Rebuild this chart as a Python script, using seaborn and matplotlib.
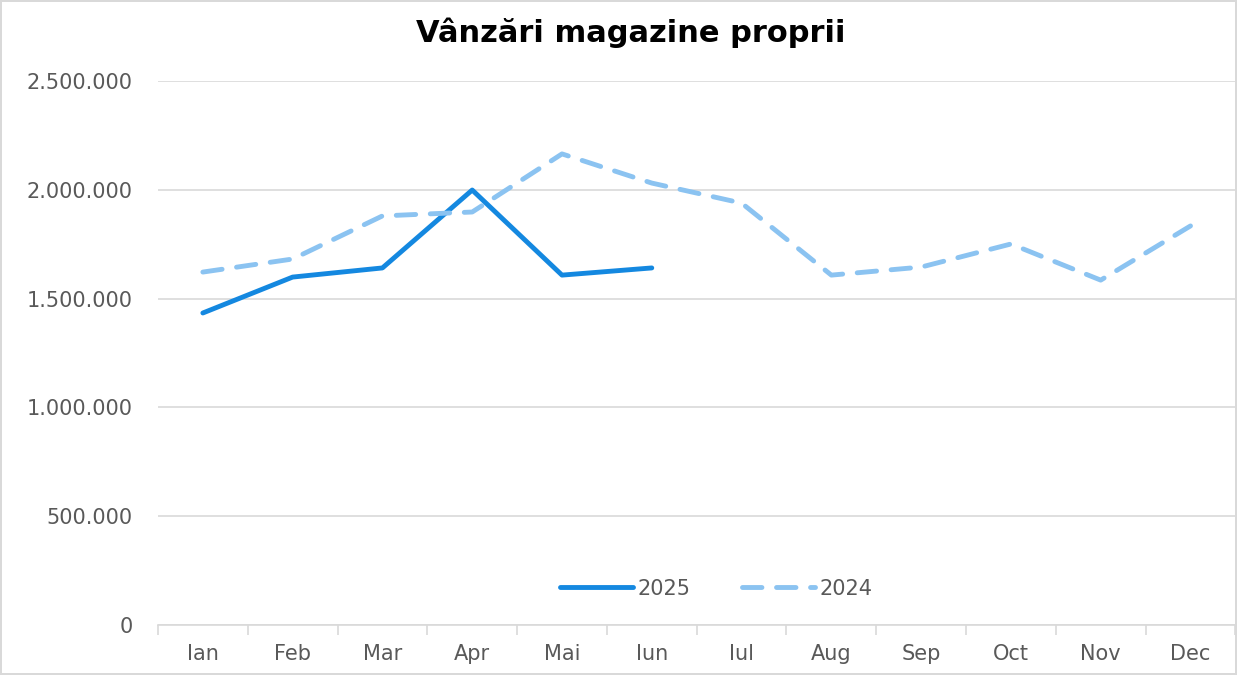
import numpy as np
import pandas as pd
import seaborn as sns
import matplotlib.pyplot as plt
from matplotlib.ticker import FuncFormatter

luni = ['Ian', 'Feb', 'Mar', 'Apr', 'Mai', 'Iun', 'Iul', 'Aug', 'Sep', 'Oct', 'Nov', 'Dec']
vanzari_2025 = [1434000, 1599000, 1641000, 1999000, 1608000, 1641000]
vanzari_2024 = [1622000, 1682000, 1880000, 1898000, 2165000, 2031000,
                1939000, 1608000, 1645000, 1751000, 1585000, 1834000]

sns.set_theme(style='white')
plt.rcParams['font.family'] = ['DejaVu Sans']

df25 = pd.DataFrame({'luna': np.arange(len(vanzari_2025)), 'val': vanzari_2025})
df24 = pd.DataFrame({'luna': np.arange(len(vanzari_2024)), 'val': vanzari_2024})

fig = plt.figure(figsize=(12.37, 6.75), dpi=100)
fig.patch.set_edgecolor('#d9d9d9')
fig.patch.set_linewidth(1.5)
ax = fig.add_axes([0.1277, 0.074, 0.871, 0.806])

sns.lineplot(data=df25, x='luna', y='val', ax=ax, color='#1488e0', lw=3.5,
             label='2025', solid_capstyle='round')
sns.lineplot(data=df24, x='luna', y='val', ax=ax, color='#8bc3f1', lw=3.5,
             label='2024', dashes=False, linestyle=(0, (4, 3)), dash_capstyle='round')

ax.set_xlim(-0.5, 11.5)
ax.set_ylim(0, 2500000)
ax.set_yticks(np.arange(0, 2500001, 500000))
ax.yaxis.set_major_formatter(FuncFormatter(lambda v, p: f'{int(v):,}'.replace(',', '.')))
ax.yaxis.grid(True, color='#d9d9d9', lw=1.2)
ax.set_axisbelow(True)

ax.set_xticks(range(12))
ax.set_xticklabels(luni)
ax.set_xticks(np.arange(-0.5, 12, 1), minor=True)
ax.tick_params(axis='x', which='major', length=0, pad=14, labelsize=15, labelcolor='#595959')
ax.tick_params(axis='x', which='minor', length=7, color='#d9d9d9', width=1.2, bottom=True)
ax.tick_params(axis='y', length=0, pad=18, labelsize=15, labelcolor='#595959')

for s in ['top', 'right', 'left']:
    ax.spines[s].set_visible(False)
ax.spines['bottom'].set_color('#d9d9d9')
ax.spines['bottom'].set_linewidth(1.2)

ax.set_xlabel('')
ax.set_ylabel('')
fig.text(0.51, 0.952, 'Vânzări magazine proprii', ha='center', va='center',
         fontsize=22, fontweight='bold', color='black')

ax.legend(loc='center', bbox_to_anchor=(0.518, 0.067), ncol=2, frameon=False,
          fontsize=15, handlelength=3.5, columnspacing=2.5, handletextpad=0.2,
          labelcolor='#595959')

fig.savefig('out.png', dpi=100)
